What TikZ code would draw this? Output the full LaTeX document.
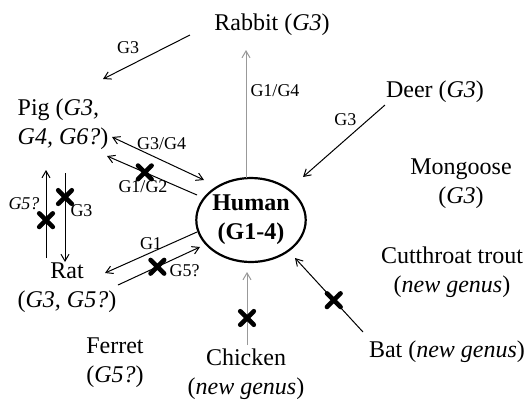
\documentclass[tikz,border=0pt]{standalone}
\usepackage{fontspec}
\setmainfont{Liberation Serif}
\usetikzlibrary{arrows.meta,shapes.geometric,shapes.misc,calc}
\tikzset{
    taxon/.style={align=center, inner sep=1pt, font=\fontsize{12}{14.5}\selectfont},
    hub/.style={draw, ellipse, line width=1.1pt, minimum width=53pt, minimum height=42pt, inner sep=0pt, align=center, font=\fontsize{12}{14.5}\selectfont\bfseries},
    link/.style={-{Straight Barb[length=3.4pt,width=4pt]}, line width=0.5pt},
    twoway/.style={{Straight Barb[length=3.4pt,width=4pt]}-{Straight Barb[length=3.4pt,width=4pt]}, line width=0.5pt},
    faint/.style={gray!80},
    edgelbl/.style={inner sep=1pt, font=\fontsize{9}{10}\selectfont},
    xmark/.style={cross out, draw=black, line width=2.3pt, line cap=round, minimum size=4.5pt, inner sep=0pt}
}
\begin{document}
\begin{tikzpicture}[x=0.5pt, y=-0.5pt]
    \useasboundingbox (0,0) rectangle (530,403);

    \node[hub] (human) at (251,220) {Human\\(G1-4)};
    \node[taxon] (rabbit) at (272,25) {Rabbit (\textit{G3})};
    \node[taxon, align=left] (pig) at (63,124) {Pig (\textit{G3,}\\\textit{G4, G6?})};
    \node[taxon] (deer) at (435,92) {Deer (\textit{G3})};
    \node[taxon] (mongoose) at (461,184) {Mongoose\\(\textit{G3})};
    \node[taxon] (trout) at (452,272) {Cutthroat trout\\(\textit{new genus})};
    \node[taxon] (rat) at (67,288) {Rat\\(\textit{G3, G5?})};
    \node[taxon] (ferret) at (115,363) {Ferret\\(\textit{G5?})};
    \node[taxon] (chicken) at (246,374) {Chicken\\(\textit{new genus})};
    \node[taxon] (bat) at (447,352) {Bat (\textit{new genus})};

    % rabbit links
    \draw[link] ($(rabbit)+(-82,10)$) -- ($(pig)+(40,-45)$)
        node[edgelbl, pos=0.71, above=5pt] {G3};
    \draw[link, faint] ($(human)+(-5,-42)$) -- ($(rabbit)+(-26,25)$)
        node[edgelbl, pos=0.68, right=1pt, text=black] {G1/G4};

    % deer
    \draw[link] ($(deer)+(-50,13)$) -- ($(human)+(52,-43)$)
        node[edgelbl, pos=0.32, above left=0pt] {G3};

    % pig and human
    \draw[twoway] ($(pig)+(49,13)$) -- ($(human)+(-47,-40)$)
        node[edgelbl, pos=0.54, above=4pt] {G3/G4};
    \draw[link] ($(human)+(-54,-25)$) -- ($(pig)+(44,32)$)
        node[xmark, pos=0.58] {}
        node[edgelbl, pos=0.6, below=3pt] {G1/G2};

    % pig and rat
    \draw[link] ($(rat)+(-21,-30)$) -- ($(pig)+(-17,46)$)
        node[xmark, pos=0.43] {}
        node[edgelbl, pos=0.62, left=2pt] {\textit{G5?}};
    \draw[link] ($(pig)+(2,49)$) -- ($(rat)+(-2,-26)$)
        node[xmark, pos=0.27] {}
        node[edgelbl, pos=0.42, right=1.5pt] {G3};

    % rat and human
    \draw[link] ($(human)+(-54,12)$) -- ($(rat)+(38,-15)$)
        node[edgelbl, pos=0.5, above=0pt] {G1};
    \draw[link] ($(rat)+(51,-3)$) -- ($(human)+(-51,27)$)
        node[xmark, pos=0.48] {}
        node[edgelbl, pos=0.6, below right=0pt] {G5?};

    % chicken and bat
    \draw[link, faint] ($(chicken)+(1,-29)$) -- ($(human)+(-4,52)$)
        node[xmark, pos=0.37] {};
    \draw[link] ($(bat)+(-84,-20)$) -- ($(human)+(44,38)$)
        node[xmark, pos=0.43] {};
\end{tikzpicture}
\end{document}
